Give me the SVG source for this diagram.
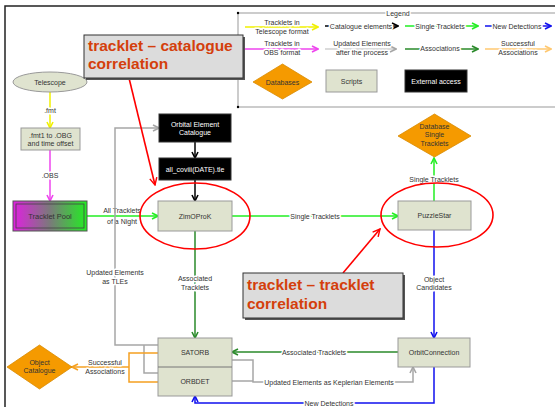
<svg xmlns="http://www.w3.org/2000/svg" width="555" height="407" viewBox="0 0 555 407">
<style>
text{font-family:"Liberation Sans",Arial,sans-serif;font-size:7px;fill:#333;text-anchor:middle}
.lbl{paint-order:stroke;stroke:#fff;stroke-width:3px;stroke-linejoin:round}
.wt{fill:#fff}
.node{fill:#dfe3cf;stroke:#999;stroke-width:1}
.ext{fill:#000;stroke:#333}
.db{fill:#f59a00;stroke:#d88a00;stroke-width:0.8}
.c{fill:none;stroke-width:1.5}
.call{fill:#dcdcdc;stroke:#333;stroke-width:1}
.shadow{fill:#555}
.ct{font-family:"Liberation Sans",Arial,sans-serif;font-weight:bold;font-size:15.5px;fill:#d43f0c;text-anchor:start}
.red{fill:none;stroke:#f00;stroke-width:1.6}
</style>
<defs>
<marker id="aY" viewBox="0 0 8 8" refX="7" refY="4" markerWidth="8" markerHeight="8" orient="auto" markerUnits="userSpaceOnUse"><path d="M1,1 L7,4 L1,7" fill="none" stroke="#f0f000" stroke-width="1.6"/></marker>
<marker id="aM" viewBox="0 0 8 8" refX="7" refY="4" markerWidth="8" markerHeight="8" orient="auto" markerUnits="userSpaceOnUse"><path d="M1,1 L7,4 L1,7" fill="none" stroke="#ee44ee" stroke-width="1.6"/></marker>
<marker id="aG" viewBox="0 0 8 8" refX="7" refY="4" markerWidth="8" markerHeight="8" orient="auto" markerUnits="userSpaceOnUse"><path d="M1,1 L7,4 L1,7" fill="none" stroke="#22ee22" stroke-width="1.6"/></marker>
<marker id="aD" viewBox="0 0 8 8" refX="7" refY="4" markerWidth="8" markerHeight="8" orient="auto" markerUnits="userSpaceOnUse"><path d="M1,1 L7,4 L1,7" fill="none" stroke="#2a8a2a" stroke-width="1.6"/></marker>
<marker id="aB" viewBox="0 0 8 8" refX="7" refY="4" markerWidth="8" markerHeight="8" orient="auto" markerUnits="userSpaceOnUse"><path d="M1,1 L7,4 L1,7" fill="none" stroke="#1010ee" stroke-width="1.6"/></marker>
<marker id="aK" viewBox="0 0 8 8" refX="7" refY="4" markerWidth="8" markerHeight="8" orient="auto" markerUnits="userSpaceOnUse"><path d="M1,1 L7,4 L1,7" fill="none" stroke="#000" stroke-width="1.6"/></marker>
<marker id="aA" viewBox="0 0 8 8" refX="7" refY="4" markerWidth="8" markerHeight="8" orient="auto" markerUnits="userSpaceOnUse"><path d="M1,1 L7,4 L1,7" fill="none" stroke="#a6a6a6" stroke-width="1.6"/></marker>
<marker id="aO" viewBox="0 0 8 8" refX="7" refY="4" markerWidth="8" markerHeight="8" orient="auto" markerUnits="userSpaceOnUse"><path d="M1,1 L7,4 L1,7" fill="none" stroke="#f5a020" stroke-width="1.6"/></marker>
<marker id="aL" viewBox="0 0 8 8" refX="7" refY="4" markerWidth="8" markerHeight="8" orient="auto" markerUnits="userSpaceOnUse"><path d="M1,1 L7,4 L1,7" fill="none" stroke="#ffc870" stroke-width="1.6"/></marker>
<marker id="aR" viewBox="0 0 10 10" refX="9" refY="5" markerWidth="9" markerHeight="9" orient="auto" markerUnits="userSpaceOnUse"><path d="M1,1 L9,5 L1,9" fill="none" stroke="#f00" stroke-width="1.6"/></marker>
<linearGradient id="pool" x1="0" y1="0" x2="1" y2="0"><stop offset="0" stop-color="#e020e0"/><stop offset="0.5" stop-color="#7a7a7a"/><stop offset="1" stop-color="#22ee22"/></linearGradient>
</defs>

<!-- frame -->
<path d="M5,407 V6 H555" fill="none" stroke="#222" stroke-width="1.5"/>

<!-- legend -->
<g id="legend">
<path d="M555,13 H238 V107 H555" fill="none" stroke="#999" stroke-width="1"/>
<circle cx="238" cy="13" r="1.2" fill="#000"/><circle cx="238" cy="107" r="1.2" fill="#000"/>
<text class="lbl" x="398" y="15.5">Legend</text>
<path class="c" d="M245,27 H318" stroke="#f0f000" marker-end="url(#aY)"/>
<text class="lbl" x="282" y="24.5">Tracklets in</text><text class="lbl" x="282" y="33.5">Telescope format</text>
<path class="c" d="M325,26 H398" stroke="#000" marker-end="url(#aK)"/>
<text class="lbl" x="361" y="28.5">Catalogue elements</text>
<path class="c" d="M405,26 H478" stroke="#22ee22" marker-end="url(#aG)"/>
<text class="lbl" x="440" y="28.5">Single Tracklets</text>
<path class="c" d="M485,26 H551" stroke="#1010ee" marker-end="url(#aB)"/>
<text class="lbl" x="517" y="28.5">New Detections</text>
<path class="c" d="M245,49 H318" stroke="#ee44ee" marker-end="url(#aM)"/>
<text class="lbl" x="282" y="45.5">Tracklets in</text><text class="lbl" x="282" y="54.5">OBS format</text>
<path class="c" d="M325,49 H396" stroke="#cfcfcf" marker-end="url(#aA)"/>
<text class="lbl" x="362" y="45.5">Updated Elements</text><text class="lbl" x="362" y="54.5">after the process</text>
<path class="c" d="M405,49 H478" stroke="#2a8a2a" marker-end="url(#aD)"/>
<text class="lbl" x="440" y="51">Associations</text>
<path class="c" d="M485,49 H551" stroke="#ffc870" marker-end="url(#aL)"/>
<text class="lbl" x="518" y="45.5">Successful</text><text class="lbl" x="518" y="54.5">Associations</text>
<polygon class="db" points="253,82 282.5,64 312,82 282.5,99"/>
<text x="282.5" y="84.5">Databases</text>
<rect class="node" x="326" y="70" width="51" height="22"/>
<text x="351.5" y="83.5">Scripts</text>
<rect class="ext" x="405" y="70" width="62" height="22"/>
<text class="wt" x="436" y="83.5">External access</text>
</g>

<!-- connectors -->
<g id="connectors">
<path class="c" d="M50,92 V128" stroke="#f0f000" marker-end="url(#aY)"/>
<text class="lbl" x="50" y="112.5">.fmt</text>
<path class="c" d="M50,150 V201" stroke="#ee44ee" marker-end="url(#aM)"/>
<text class="lbl" x="50" y="177.5">.OBS</text>
<path class="c" d="M87,216 H158" stroke="#22ee22" marker-end="url(#aG)"/>
<text class="lbl" x="122" y="212.5">All Tracklets</text><text class="lbl" x="122" y="223.5">of a Night</text>
<path class="c" d="M195,142 V158" stroke="#000" marker-end="url(#aK)"/>
<path class="c" d="M195,180 V201" stroke="#000" marker-end="url(#aK)"/>
<path class="c" d="M232,216 H398" stroke="#22ee22" marker-end="url(#aG)"/>
<text class="lbl" x="315" y="218.5">Single Tracklets</text>
<path class="c" d="M434,201 V158" stroke="#22ee22" marker-end="url(#aG)"/>
<text class="lbl" x="434" y="181.5">Single Tracklets</text>
<path class="c" d="M434,230 V338" stroke="#1010ee" marker-end="url(#aB)"/>
<text class="lbl" x="434" y="281.5">Object</text><text class="lbl" x="434" y="289.5">Candidates</text>
<path class="c" d="M195,231 V338" stroke="#2a8a2a" marker-end="url(#aD)"/>
<text class="lbl" x="195" y="281">Associated</text><text class="lbl" x="195" y="290">Tracklets</text>
<path class="c" d="M398,352 H232" stroke="#2a8a2a" marker-end="url(#aD)"/>
<text class="lbl" x="314" y="354.5">Associated Tracklets</text>
<path class="c" d="M434,367 V403 H195 V396" stroke="#1010ee" marker-end="url(#aB)"/>
<text class="lbl" x="329" y="405.5">New Detections</text>
<path class="c" d="M232,360 H253 V382 H413 V367" stroke="#a6a6a6" marker-end="url(#aA)"/>
<path class="c" d="M232,381 H253" stroke="#a6a6a6"/>
<text class="lbl" x="329" y="384.5">Updated Elements as Keplerian Elements</text>
<path class="c" d="M158,345 H115 V128 H159" stroke="#a6a6a6" marker-end="url(#aA)"/>
<path class="c" d="M158,373 H144 V345" stroke="#a6a6a6"/>
<text class="lbl" x="115" y="274.5">Updated Elements</text><text class="lbl" x="115" y="283.5">as TLEs</text>
<path class="c" d="M158,353 H129 V382 H158" stroke="#f5a020"/>
<path class="c" d="M129,367 H72" stroke="#f5a020" marker-end="url(#aO)"/>
<text class="lbl" x="105" y="364.5">Successful</text><text class="lbl" x="105" y="373.5">Associations</text>
</g>

<!-- nodes -->
<g id="telescope"><ellipse class="node" cx="50" cy="82" rx="37" ry="10"/><text x="50" y="84.5">Telescope</text></g>
<g id="fmt1"><rect class="node" x="21" y="128" width="59" height="22"/><text x="50.5" y="137.5">.fmt1 to .OBG</text><text x="50.5" y="145.5">and time offset</text></g>
<g id="trackletpool"><rect x="13" y="201" width="74" height="30" fill="url(#pool)" stroke="#555"/><rect x="16" y="204" width="68" height="24" fill="none" stroke="#444" stroke-width="0.8"/><text x="50" y="218.5" style="font-size:7.5px">Tracklet Pool</text></g>
<g id="oec"><rect class="ext" x="159" y="114" width="72" height="28"/><text class="wt" x="195" y="126.5">Orbital Element</text><text class="wt" x="195" y="134.5">Catalogue</text></g>
<g id="allcov"><rect class="ext" x="159" y="158" width="72" height="22"/><text class="wt" x="195" y="171.5">all_coviii(DATE).tle</text></g>
<g id="zimoprok"><rect class="node" x="158" y="201" width="74" height="30"/><text x="195" y="218.5">ZimOProK</text></g>
<g id="puzzlestar"><rect class="node" x="398" y="201" width="73" height="29"/><text x="434.5" y="218">PuzzleStar</text></g>
<g id="dbsingle"><polygon class="db" points="398,136 434.5,114 471,136 434.5,157"/><text x="434.5" y="128.5">Database</text><text x="434.5" y="137">Single</text><text x="434.5" y="145.5">Tracklets</text></g>
<g id="orbitconnection"><rect class="node" x="398" y="338" width="72" height="29"/><text x="434" y="354.5">OrbitConnection</text></g>
<g id="satorb"><rect class="node" x="158" y="338" width="74" height="58"/><line x1="158" y1="367" x2="232" y2="367" stroke="#777" stroke-width="1"/><text x="195" y="354.5">SATORB</text><text x="195" y="383.5">ORBDET</text></g>
<g id="objcat"><polygon class="db" points="7,367 39.5,345 72,367 39.5,389"/><text x="39.5" y="364.5">Object</text><text x="39.5" y="373">Catalogue</text></g>

<!-- annotations -->
<g id="annotations">
<ellipse class="red" cx="195" cy="216" rx="55" ry="33"/>
<ellipse class="red" cx="437" cy="215" rx="56" ry="32"/>
<path class="red" d="M129,78 L155,185" marker-end="url(#aR)"/>
<path class="red" d="M343,273 L380,229" marker-end="url(#aR)"/>
<g id="callout1"><rect class="shadow" x="86" y="37" width="159" height="43"/><rect class="call" x="84" y="35" width="159" height="43"/><text class="ct" x="88" y="50.5">tracklet – catalogue</text><text class="ct" x="88" y="69">correlation</text></g>
<g id="callout2"><rect class="shadow" x="245" y="275" width="160" height="45"/><rect class="call" x="243" y="273" width="160" height="45"/><text class="ct" x="247" y="290">tracklet – tracklet</text><text class="ct" x="247" y="308.5">correlation</text></g>
</g>
</svg>
